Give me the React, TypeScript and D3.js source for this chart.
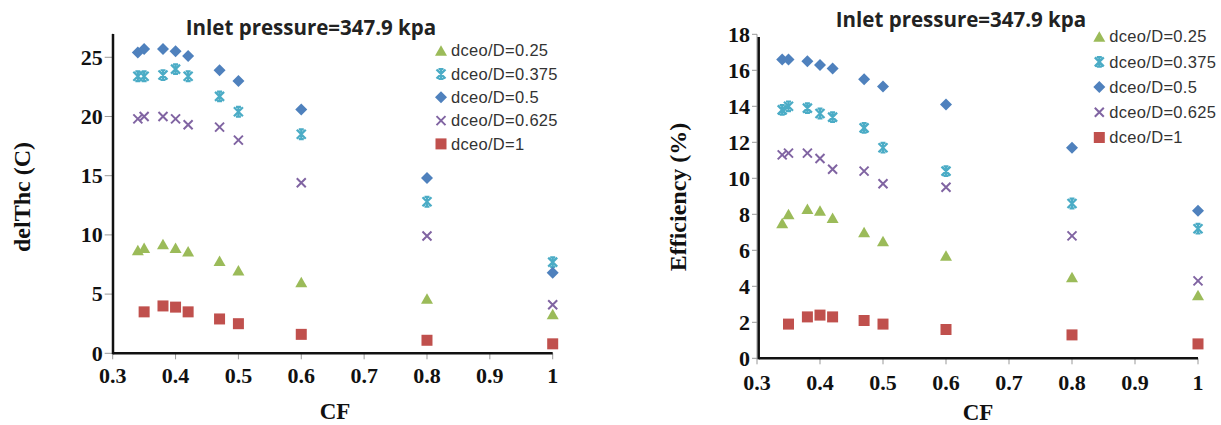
import React from "react";
import * as d3 from "d3";

const cfValues = [0.34, 0.35, 0.38, 0.4, 0.42, 0.47, 0.5, 0.6, 0.8, 1.0];
const seriesNames = ["dceo/D=0.25", "dceo/D=0.375", "dceo/D=0.5", "dceo/D=0.625", "dceo/D=1"];

// Left chart: delThc (C)
const delThc025 = [8.7, 8.9, 9.2, 8.9, 8.6, 7.8, 7.0, 6.0, 4.6, 3.3];
const delThc0375 = [23.4, 23.4, 23.5, 24.0, 23.4, 21.7, 20.4, 18.5, 12.8, 7.7];
const delThc05 = [25.4, 25.7, 25.7, 25.5, 25.1, 23.9, 23.0, 20.6, 14.8, 6.8];
const delThc0625 = [19.8, 20.0, 20.0, 19.8, 19.3, 19.1, 18.0, 14.4, 9.9, 4.1];
const delThc1 = [null, 3.5, 4.0, 3.9, 3.5, 2.9, 2.5, 1.6, 1.1, 0.8];

// Right chart: Efficiency (%)
const eff025 = [7.5, 8.0, 8.3, 8.2, 7.8, 7.0, 6.5, 5.7, 4.5, 3.5];
const eff0375 = [13.8, 14.0, 13.9, 13.6, 13.4, 12.8, 11.7, 10.4, 8.6, 7.2];
const eff05 = [16.6, 16.6, 16.5, 16.3, 16.1, 15.5, 15.1, 14.1, 11.7, 8.2];
const eff0625 = [11.3, 11.4, 11.4, 11.1, 10.5, 10.4, 9.7, 9.5, 6.8, 4.3];
const eff1 = [null, 1.9, 2.3, 2.4, 2.3, 2.1, 1.9, 1.6, 1.3, 0.8];

const xTicks = [0.3, 0.4, 0.5, 0.6, 0.7, 0.8, 0.9, 1];
const leftYTicks = [0, 5, 10, 15, 20, 25];
const rightYTicks = [0, 2, 4, 6, 8, 10, 12, 14, 16, 18];

const colors = ["#9BBB59", "#4BACC6", "#4F81BD", "#8064A2", "#C0504D"];
const shapes = ["triangle", "star", "diamond", "x", "square"];

const SERIF = "'Liberation Serif', 'Times New Roman', serif";
const SANS = "'Liberation Sans', Arial, sans-serif";
const TITLE_FONT = "'Open Sans', 'Liberation Sans', sans-serif";

function Marker({ shape, color, x, y }: { shape: string; color: string; x: number; y: number }) {
  const t = `translate(${x},${y})`;
  if (shape === "triangle") {
    return <path transform={t} d="M0,-5.5L6,5L-6,5Z" fill={color} />;
  }
  if (shape === "diamond") {
    return <path transform={t} d="M0,-6L6,0L0,6L-6,0Z" fill={color} />;
  }
  if (shape === "square") {
    return <rect transform={t} x={-5.5} y={-5.5} width={11} height={11} fill={color} />;
  }
  if (shape === "x") {
    return (
      <path transform={t} d="M-4.5,-4.5L4.5,4.5M-4.5,4.5L4.5,-4.5" stroke={color} strokeWidth={2} fill="none" />
    );
  }
  return (
    <path
      transform={t}
      d="M-4.5,-4.5L4.5,4.5M-4.5,4.5L4.5,-4.5M0,-5L0,5M-2.5,-4.8L2.5,-4.8M-2.5,4.8L2.5,4.8"
      stroke={color}
      strokeWidth={2.2}
      fill="none"
    />
  );
}

type PanelProps = {
  x0: number;
  x1: number;
  yBottom: number;
  yTop: number;
  yMax: number;
  blackX: number;
  blackTop: number;
  yTicks: number[];
  series: (number | null)[][];
  yLabel: string;
  yLabelX: number;
  yLabelY: number;
  title: string;
  titleX: number;
  titleY: number;
  xLabelBaseline: number;
  cfX: number;
  cfBaseline: number;
  legendX: number;
  legendY: number;
  legendStep: number;
  tickLen: number;
};

function Panel(p: PanelProps) {
  const xs = d3.scaleLinear().domain([0.3, 1]).range([p.x0, p.x1]);
  const ys = d3.scaleLinear().domain([0, p.yMax]).range([p.yBottom, p.yTop]);
  return (
    <g>
      <line x1={p.x0} x2={p.x0} y1={ys(p.yMax)} y2={p.yBottom} stroke="#999" strokeWidth={1} />
      {p.yTicks.map((v) => (
        <g key={"yt" + v}>
          <line x1={p.x0 - p.tickLen} x2={p.x0} y1={ys(v)} y2={ys(v)} stroke="#999" strokeWidth={1} />
          <text
            x={p.x0 - p.tickLen - 2}
            y={ys(v)}
            dy="0.33em"
            textAnchor="end"
            fontFamily={SERIF}
            fontWeight="bold"
            fontSize={22}
            fill="#111"
          >
            {v}
          </text>
        </g>
      ))}
      {xTicks.map((v) => (
        <g key={"xt" + v}>
          <line x1={xs(v)} x2={xs(v)} y1={p.yBottom} y2={p.yBottom + 6} stroke="#999" strokeWidth={1} />
          <text
            x={xs(v)}
            y={p.xLabelBaseline}
            textAnchor="middle"
            fontFamily={SERIF}
            fontWeight="bold"
            fontSize={22}
            fill="#111"
          >
            {v}
          </text>
        </g>
      ))}
      <line x1={p.blackX} x2={p.blackX} y1={p.blackTop} y2={p.yBottom + 1} stroke="#111" strokeWidth={2.5} />
      <line x1={p.blackX} x2={p.x1} y1={p.yBottom} y2={p.yBottom} stroke="#111" strokeWidth={2.5} />
      {p.series.map((vals, si) =>
        vals.map((v, i) =>
          v == null ? null : (
            <Marker key={`p${si}-${i}`} shape={shapes[si]} color={colors[si]} x={xs(cfValues[i])} y={ys(v)} />
          )
        )
      )}
      <text
        x={p.titleX}
        y={p.titleY}
        textAnchor="middle"
        fontFamily={TITLE_FONT}
        fontWeight="bold"
        fontSize={20.5}
        fill="#222"
      >
        {p.title}
      </text>
      <text
        transform={`translate(${p.yLabelX},${p.yLabelY}) rotate(-90)`}
        textAnchor="middle"
        dy="0.33em"
        fontFamily={SERIF}
        fontWeight="bold"
        fontSize={24}
        fill="#111"
      >
        {p.yLabel}
      </text>
      <text
        x={p.cfX}
        y={p.cfBaseline}
        textAnchor="middle"
        fontFamily={SERIF}
        fontWeight="bold"
        fontSize={23}
        fill="#111"
      >
        CF
      </text>
      {seriesNames.map((name, si) => {
        const ly = p.legendY + si * p.legendStep;
        return (
          <g key={"lg" + si}>
            <Marker shape={shapes[si]} color={colors[si]} x={p.legendX} y={ly} />
            <text
              x={p.legendX + 10}
              y={ly}
              dy="0.35em"
              fontFamily={SANS}
              fontSize={16.5}
              letterSpacing={0.3}
              fill="#333"
            >
              {name}
            </text>
          </g>
        );
      })}
    </g>
  );
}

export default function App() {
  return (
    <svg
      width={1221}
      height={425}
      viewBox="0 0 1221 425"
      style={{ position: "absolute", left: 0, top: 0, background: "#fff" }}
    >
      <rect width={1221} height={425} fill="#fff" />
      <Panel
        x0={112.7}
        x1={552.7}
        yBottom={353.3}
        yTop={33.6}
        yMax={27}
        blackX={113}
        blackTop={34}
        yTicks={leftYTicks}
        series={[delThc025, delThc0375, delThc05, delThc0625, delThc1]}
        yLabel="delThc (C)"
        yLabelX={22}
        yLabelY={197}
        title="Inlet pressure=347.9 kpa"
        titleX={311}
        titleY={35}
        xLabelBaseline={383}
        cfX={335}
        cfBaseline={419}
        legendX={441}
        legendY={50.7}
        legendStep={23.3}
        tickLen={8}
      />
      <Panel
        x0={757}
        x1={1198}
        yBottom={358.3}
        yTop={34.3}
        yMax={18}
        blackX={758.7}
        blackTop={37}
        yTicks={rightYTicks}
        series={[eff025, eff0375, eff05, eff0625, eff1]}
        yLabel="Efficiency (%)"
        yLabelX={678}
        yLabelY={197}
        title="Inlet pressure=347.9 kpa"
        titleX={961}
        titleY={27}
        xLabelBaseline={390}
        cfX={978}
        cfBaseline={420}
        legendX={1099.3}
        legendY={36.7}
        legendStep={25.2}
        tickLen={5}
      />
    </svg>
  );
}
